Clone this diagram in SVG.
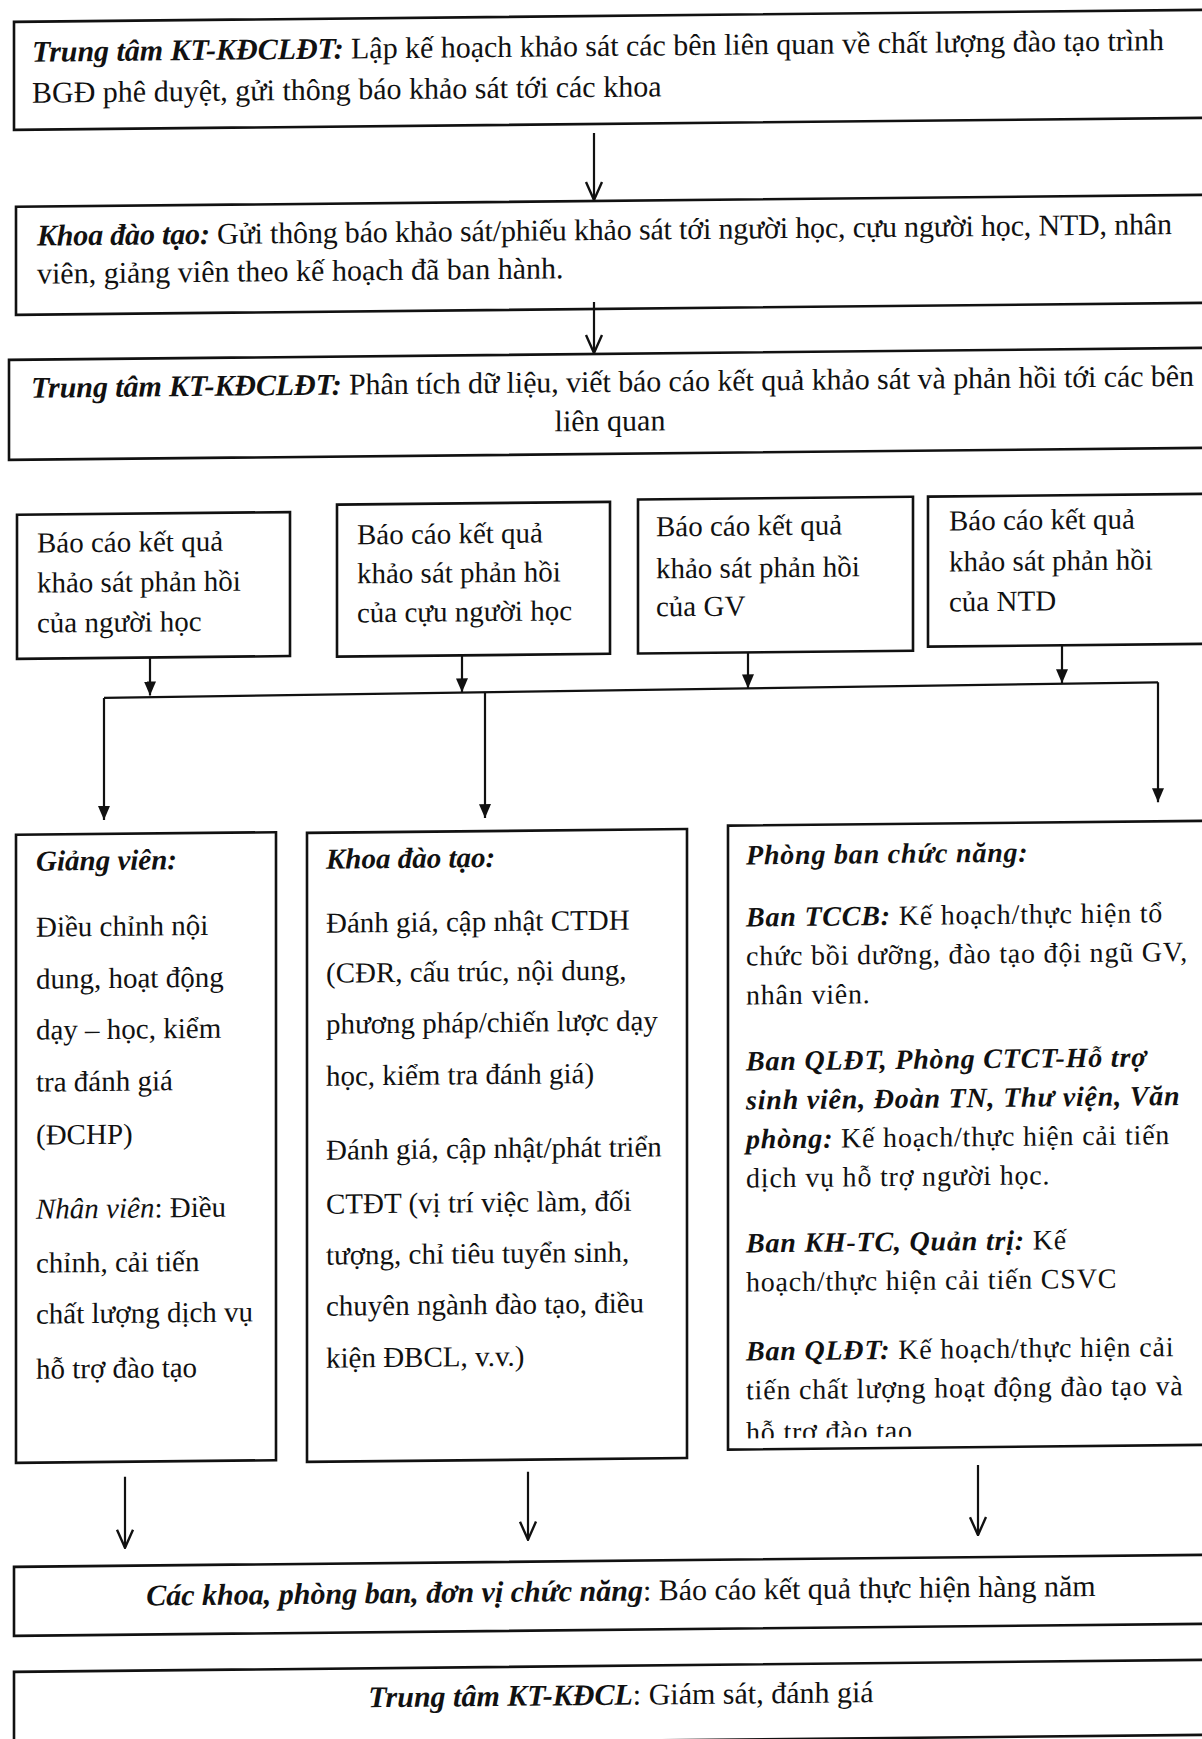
<svg xmlns="http://www.w3.org/2000/svg" width="1202" height="1739" viewBox="0 0 1202 1739">
<style>
.box{fill:#fff;stroke:#111;stroke-width:2.6}
.t{font-family:"Liberation Serif","Times New Roman",serif;fill:#111}
.f30{font-size:30px}
.f29{font-size:29px}
.f28w{font-size:28px;letter-spacing:0.8px}
.bi{font-weight:bold;font-style:italic}
.i{font-style:italic}
.conn{stroke:#111;stroke-width:2.2;fill:none}
.open{marker-end:url(#open)}
.solid{marker-end:url(#solid)}
</style>
<defs>
<marker id="open" viewBox="0 0 20 20" refX="19" refY="10" markerWidth="20" markerHeight="20" markerUnits="userSpaceOnUse" orient="auto">
<path d="M1,2 L19,10 L1,18" fill="none" stroke="#111" stroke-width="2.4"/>
</marker>
<marker id="solid" viewBox="0 0 14 12" refX="14" refY="6" markerWidth="14" markerHeight="12" markerUnits="userSpaceOnUse" orient="auto">
<path d="M0,0 L14,6 L0,12 z" fill="#111"/>
</marker>
<clipPath id="clipLast"><rect x="700" y="1400" width="520" height="46"/></clipPath>
</defs>
<rect x="0" y="0" width="1202" height="1739" fill="#fff"/>
<g transform="skewY(-0.58)">
<g id="n1">
<rect class="box" x="14" y="22" width="1196" height="108"/>
<text class="t f30" x="32" y="62" textLength="1132"><tspan class="bi">Trung tâm KT-KĐCLĐT:</tspan> Lập kế hoạch khảo sát các bên liên quan về chất lượng đào tạo trình</text>
<text class="t f30" x="32" y="103">BGĐ phê duyệt, gửi thông báo khảo sát tới các khoa</text>
</g>
<g id="n2">
<rect class="box" x="16" y="207" width="1194" height="108"/>
<text class="t f30" x="37" y="246" textLength="1135"><tspan class="bi">Khoa đào tạo:</tspan> Gửi thông báo khảo sát/phiếu khảo sát tới người học, cựu người học, NTD, nhân</text>
<text class="t f30" x="37" y="284">viên, giảng viên theo kế hoạch đã ban hành.</text>
</g>
<g id="n3">
<rect class="box" x="9" y="360" width="1201" height="100"/>
<text class="t f30" x="31" y="398" textLength="1163"><tspan class="bi">Trung tâm KT-KĐCLĐT:</tspan> Phân tích dữ liệu, viết báo cáo kết quả khảo sát và phản hồi tới các bên</text>
<text class="t f30" x="610" y="437" text-anchor="middle">liên quan</text>
</g>
<g id="r1">
<rect class="box" x="17" y="515" width="273" height="144"/>
<text class="t f29" x="37" y="553">Báo cáo kết quả</text>
<text class="t f29" x="37" y="593">khảo sát phản hồi</text>
<text class="t f29" x="37" y="633">của người học</text>
</g>
<g id="r2">
<rect class="box" x="337" y="508" width="273" height="152"/>
<text class="t f29" x="357" y="548">Báo cáo kết quả</text>
<text class="t f29" x="357" y="587">khảo sát phản hồi</text>
<text class="t f29" x="357" y="626">của cựu người học</text>
</g>
<g id="r3">
<rect class="box" x="638" y="506" width="275" height="154"/>
<text class="t f29" x="656" y="543">Báo cáo kết quả</text>
<text class="t f29" x="656" y="585">khảo sát phản hồi</text>
<text class="t f29" x="656" y="623">của GV</text>
</g>
<g id="r4">
<rect class="box" x="928" y="506" width="282" height="150"/>
<text class="t f29" x="949" y="540">Báo cáo kết quả</text>
<text class="t f29" x="949" y="581">khảo sát phản hồi</text>
<text class="t f29" x="949" y="621">của NTD</text>
</g>
<g id="giangvien">
<rect class="box" x="16" y="835" width="260" height="628"/>
<text class="t f29 bi" x="36" y="871">Giảng viên:</text>
<text class="t f29" x="36" y="937">Điều chỉnh nội</text>
<text class="t f29" x="36" y="989">dung, hoạt động</text>
<text class="t f29" x="36" y="1040">dạy – học, kiểm</text>
<text class="t f29" x="36" y="1092">tra đánh giá</text>
<text class="t f29" x="36" y="1145">(ĐCHP)</text>
<text class="t f29" x="36" y="1219"><tspan class="i">Nhân viên</tspan>: Điều</text>
<text class="t f29" x="36" y="1273">chỉnh, cải tiến</text>
<text class="t f29" x="36" y="1324">chất lượng dịch vụ</text>
<text class="t f29" x="36" y="1379">hỗ trợ đào tạo</text>
</g>
<g id="khoa">
<rect class="box" x="307" y="836" width="380" height="629"/>
<text class="t f29 bi" x="326" y="872">Khoa đào tạo:</text>
<text class="t f29" x="326" y="936">Đánh giá, cập nhật CTDH</text>
<text class="t f29" x="326" y="986">(CĐR, cấu trúc, nội dung,</text>
<text class="t f29" x="326" y="1037">phương pháp/chiến lược dạy</text>
<text class="t f29" x="326" y="1089">học, kiểm tra đánh giá)</text>
<text class="t f29" x="326" y="1163">Đánh giá, cập nhật/phát triển</text>
<text class="t f29" x="326" y="1217">CTĐT (vị trí việc làm, đối</text>
<text class="t f29" x="326" y="1268">tượng, chỉ tiêu tuyển sinh,</text>
<text class="t f29" x="326" y="1319">chuyên ngành đào tạo, điều</text>
<text class="t f29" x="326" y="1371">kiện ĐBCL, v.v.)</text>
</g>
<g id="phongban">
<rect class="box" x="728" y="833" width="482" height="624"/>
<text class="t f28w bi" x="746" y="872">Phòng ban chức năng:</text>
<text class="t f28w" x="746" y="934"><tspan class="bi">Ban TCCB:</tspan> Kế hoạch/thực hiện tổ</text>
<text class="t f28w" x="746" y="973">chức bồi dưỡng, đào tạo đội ngũ GV,</text>
<text class="t f28w" x="746" y="1012">nhân viên.</text>
<text class="t f28w bi" x="746" y="1078">Ban QLĐT, Phòng CTCT-Hỗ trợ</text>
<text class="t f28w bi" x="746" y="1117">sinh viên, Đoàn TN, Thư viện, Văn</text>
<text class="t f28w" x="746" y="1156"><tspan class="bi">phòng:</tspan> Kế hoạch/thực hiện cải tiến</text>
<text class="t f28w" x="746" y="1195">dịch vụ hỗ trợ người học.</text>
<text class="t f28w" x="746" y="1260"><tspan class="bi">Ban KH-TC, Quản trị:</tspan> Kế</text>
<text class="t f28w" x="746" y="1299">hoạch/thực hiện cải tiến CSVC</text>
<text class="t f28w" x="746" y="1368"><tspan class="bi">Ban QLĐT:</tspan> Kế hoạch/thực hiện cải</text>
<text class="t f28w" x="746" y="1407">tiến chất lượng hoạt động đào tạo và</text>
<text class="t f28w" x="746" y="1449" clip-path="url(#clipLast)">hỗ trợ đào tạo</text>
</g>
<g id="baocao">
<rect class="box" x="14" y="1567" width="1196" height="69"/>
<text class="t f30" x="621" y="1607" text-anchor="middle"><tspan class="bi">Các khoa, phòng ban, đơn vị chức năng</tspan>: Báo cáo kết quả thực hiện hàng năm</text>
</g>
<g id="giamsat">
<rect class="box" x="14" y="1672" width="1196" height="75"/>
<text class="t f30" x="621" y="1711" text-anchor="middle"><tspan class="bi">Trung tâm KT-KĐCL</tspan>: Giám sát, đánh giá</text>
</g>
<g id="connectors">
<line class="conn open" x1="594" y1="139" x2="594" y2="206"/>
<line class="conn open" x1="594" y1="308" x2="594" y2="359"/>
<line class="conn solid" x1="150" y1="659" x2="150" y2="697"/>
<line class="conn solid" x1="462" y1="660" x2="462" y2="697"/>
<line class="conn solid" x1="748" y1="660" x2="748" y2="696"/>
<line class="conn solid" x1="1062" y1="656" x2="1062" y2="694"/>
<polyline class="conn" points="104,699 1158,694"/>
<line class="conn solid" x1="104" y1="699" x2="104" y2="821"/>
<line class="conn solid" x1="485" y1="697" x2="485" y2="823"/>
<line class="conn solid" x1="1158" y1="694" x2="1158" y2="814"/>
<line class="conn open" x1="125" y1="1478" x2="125" y2="1549"/>
<line class="conn open" x1="528" y1="1477" x2="528" y2="1545"/>
<line class="conn open" x1="978" y1="1475" x2="978" y2="1545"/>
</g>
</g>
</svg>
